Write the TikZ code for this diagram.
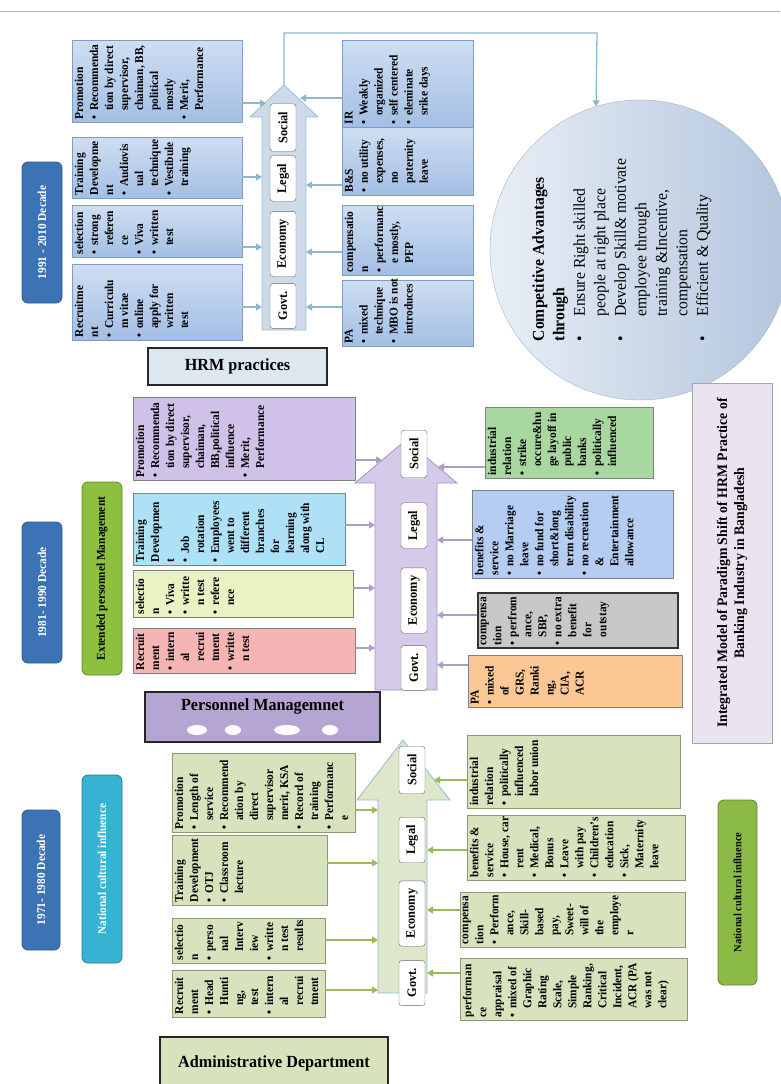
\documentclass[tikz,border=0pt]{standalone}
\usepackage{fontspec}
\setmainfont{Liberation Serif}[FakeStretch=0.95]
\usepackage{tikz}
\usetikzlibrary{arrows.meta}

\definecolor{blueA}{HTML}{CFDEF2}
\definecolor{blueB}{HTML}{A3BFE4}
\definecolor{blueD}{HTML}{7F9DC4}
\definecolor{decade}{HTML}{3B73B5}
\definecolor{decadeD}{HTML}{2A5A92}
\definecolor{shaftA}{HTML}{CCDBE7}
\definecolor{shaftAd}{HTML}{A2BDD2}
\definecolor{linkA}{HTML}{8CB9CD}
\definecolor{hrmfill}{HTML}{DCE7F0}
\definecolor{lilac}{HTML}{CFC1E8}
\definecolor{skyfill}{HTML}{AEE1F5}
\definecolor{limefill}{HTML}{E8F2C2}
\definecolor{rosefill}{HTML}{F6B5B5}
\definecolor{mintfill}{HTML}{A8D8A0}
\definecolor{cornfill}{HTML}{B5CDF2}
\definecolor{stonefill}{HTML}{C8C8C8}
\definecolor{peachfill}{HTML}{FBC794}
\definecolor{shaftB}{HTML}{D5CAE8}
\definecolor{shaftBd}{HTML}{A195C6}
\definecolor{linkB}{HTML}{A79FC4}
\definecolor{leaf}{HTML}{8DC03F}
\definecolor{pmfill}{HTML}{B5A5D2}
\definecolor{olivefill}{HTML}{D7E3BC}
\definecolor{oliveD}{HTML}{8C9A74}
\definecolor{shaftC}{HTML}{DDE8CB}
\definecolor{shaftCd}{HTML}{8FBCD6}
\definecolor{linkC}{HTML}{9BBB59}
\definecolor{cyanpill}{HTML}{36B2D3}
\definecolor{grass}{HTML}{8CBA46}
\definecolor{intfill}{HTML}{EAE4F1}
\definecolor{orbL}{HTML}{E8EEF6}
\definecolor{orbR}{HTML}{B3C5DD}
\definecolor{orbD}{HTML}{9FB3CC}

\newcommand{\pbul}{\makebox[0.7em][l]{\textbullet}}
\newcommand{\pind}{\hspace*{0.7em}}
\newcommand{\cbul}{\makebox[1.5em][l]{\textbullet}}
\newcommand{\cind}{\hspace*{1.5em}}

\begin{document}
\begin{tikzpicture}[x=1pt, y=-1pt,
  every node/.style={font=\bfseries\fontsize{12}{15}\selectfont},
  box/.style={draw, rotate=90, inner sep=0pt, line width=0.8pt},
  txt/.style={rotate=90, anchor=north west, align=left, inner sep=3pt},
  pill/.style={draw, rotate=90, rounded corners=6pt, inner sep=0pt, line width=0.8pt},
  tag/.style={draw=gray!80!black, fill=white, rounded corners=3pt, rotate=90, inner xsep=8pt, inner ysep=0pt, minimum height=26pt, font=\bfseries\fontsize{13}{15}\selectfont},
  head/.style={draw=black!85, line width=1.3pt, font=\bfseries\fontsize{17}{20}\selectfont},
  link/.style={-{Triangle[length=6pt, width=7pt]}, line width=1.3pt},
]
\useasboundingbox (0,0) rectangle (780,1084);
\draw[gray!60, line width=1pt] (0,11) -- (780,11);

% 1991 - 2010
\node[pill, fill=decade, draw=decadeD, minimum width=141pt, minimum height=40pt, text=white] (dec1) at (42,232.5) {1991 - 2010 Decade};
\draw[fill=shaftA, draw=shaftAd, line width=0.8pt] (262,330) -- (262,117) -- (250,117) -- (284,85) -- (318,117) -- (306,117) -- (306,330) -- cycle;
\coordinate (tip1) at (284,85);
\node[tag] (soc1) at (283,127.5) {Social};
\node[tag] (leg1) at (283,178.5) {Legal};
\node[tag] (eco1) at (283,244) {Economy};
\node[tag] (gov1) at (283,306) {Govt.};

\node[box, top color=blueA, bottom color=blueB, draw=blueD, minimum width=82pt, minimum height=170pt] (pro1) at (157,81) {};
\node[txt] (pro1t) at (pro1.north west) {Promotion\\ \pbul Recommenda\\ \pind tion by direct\\ \pind supervisor,\\ \pind chaiman, BB,\\ \pind political\\ \pind mostly\\ \pbul Merit,\\ \pind Performance};
\node[box, top color=blueA, bottom color=blueB, draw=blueD, minimum width=61pt, minimum height=170pt] (trn1) at (157,167.5) {};
\node[txt] (trn1t) at (trn1.north west) {Training\\ Developme\\ nt\\ \pbul Audiovis\\ \pind ual\\ \pind technique\\ \pbul Vestibule\\ \pind training};
\node[box, top color=blueA, bottom color=blueB, draw=blueD, minimum width=52pt, minimum height=170pt] (sel1) at (157,231) {};
\node[txt] (sel1t) at (sel1.north west) {selection\\ \pbul strong\\ \pind referen\\ \pind ce\\ \pbul Viva\\ \pbul written\\ \pind test};
\node[box, top color=blueA, bottom color=blueB, draw=blueD, minimum width=76pt, minimum height=170pt] (rec1) at (157,302) {};
\node[txt] (rec1t) at (rec1.north west) {Recruitme\\ nt\\ \pbul Curriculu\\ \pind m vitae\\ \pbul online\\ \pind apply for\\ \pind written\\ \pind test};

\node[box, top color=blueA, bottom color=blueB, draw=blueD, minimum width=87pt, minimum height=131pt] (ir1) at (407.5,83.5) {};
\node[txt] (ir1t) at (ir1.north west) {IR\\ \pbul Weakly\\ \pind organized\\ \pbul self centered\\ \pbul eleminate\\ \pind srike days};
\node[box, top color=blueA, bottom color=blueB, draw=blueD, minimum width=68pt, minimum height=131pt] (bs1) at (407.5,161) {};
\node[txt] (bs1t) at (bs1.north west) {B\&S\\ \pbul no utility\\ \pind expenses,\\ \pind no\\ \pind paternity\\ \pind leave};
\node[box, top color=blueA, bottom color=blueB, draw=blueD, minimum width=70pt, minimum height=131pt] (cmp1) at (407.5,240) {};
\node[txt] (cmp1t) at (cmp1.north west) {compensatio\\ n\\ \pbul performanc\\ \pind e mostly,\\ \pind PFP};
\node[box, top color=blueA, bottom color=blueB, draw=blueD, minimum width=66pt, minimum height=131pt] (pa1) at (407.5,313) {};
\node[txt] (pa1t) at (pa1.north west) {PA\\ \pbul mixed\\ \pind technique\\ \pbul MBO is not\\ \pind introduces};

\foreach \bx/\x/\y in {pro1/266/103, trn1/262/177, sel1/262/247, rec1/262/307} {
  \coordinate (\bx-in) at (\x,\y);
  \draw[link, draw=linkA] (\bx.south |- \bx-in) -- (\bx-in);
}
\foreach \bx/\x/\y in {ir1/300/98, bs1/306/185, cmp1/306/252, pa1/306/307} {
  \coordinate (\bx-in) at (\x,\y);
  \draw[link, draw=linkA] (\bx.north |- \bx-in) -- (\bx-in);
}

\node[circle, draw=orbD, left color=orbL, right color=orbR, minimum size=300pt, inner sep=0pt] (adv) at (640,250) {};
\node[rotate=90, align=left, font=\fontsize{16.5}{20.5}\selectfont] (advt) at (622,250) {\textbf{Competitive Advantages}\\ \textbf{through}\\ \cbul Ensure Right skilled\\ \cind people at right place\\ \cbul Develop Skill\& motivate\\ \cind employee through\\ \cind training \&Incentive,\\ \cind compensation\\ \cbul Efficient \& Quality};
\coordinate (lnk) at (597,33);
\draw[link, draw=linkA] (tip1) |- (lnk) -- (adv.107);

\node[head, fill=hrmfill, minimum width=179pt, minimum height=37pt] (hrm) at (237.5,366.5) {HRM practices};

% 1981 - 1990
\node[pill, fill=decade, draw=decadeD, minimum width=141pt, minimum height=40pt, text=white] (dec2) at (42,592.5) {1981- 1990 Decade};
\node[pill, fill=leaf, draw=leaf!70!black, minimum width=193pt, minimum height=40pt] (ext2) at (102,578.5) {Extended personnel Management};
\draw[fill=shaftB, draw=shaftBd, line width=0.8pt] (375,690) -- (375,483) -- (355,483) -- (406,440) -- (457,483) -- (437,483) -- (437,690) -- cycle;
\node[tag] (soc2) at (414,454) {Social};
\node[tag] (leg2) at (414,525.5) {Legal};
\node[tag] (eco2) at (414,600.5) {Economy};
\node[tag] (gov2) at (414,668) {Govt.};

\node[box, fill=lilac, draw=gray, minimum width=83pt, minimum height=222pt] (pro2) at (244,438.5) {};
\node[txt] (pro2t) at (pro2.north west) {Promotion\\ \pbul Recommenda\\ \pind tion by direct\\ \pind supervisor,\\ \pind chaiman,\\ \pind BB,political\\ \pind influence\\ \pbul Merit,\\ \pind Performance};
\node[box, fill=skyfill, draw=gray, minimum width=72pt, minimum height=212pt] (trn2) at (239,529) {};
\node[txt] (trn2t) at (trn2.north west) {Training\\ Developmen\\ t\\ \pbul Job\\ \pind rotation\\ \pbul Employees\\ \pind went to\\ \pind different\\ \pind branches\\ \pind for\\ \pind learning\\ \pind along with\\ \pind CL};
\node[box, fill=limefill, draw=gray, minimum width=47pt, minimum height=220pt] (sel2) at (243,593.5) {};
\node[txt] (sel2t) at (sel2.north west) {selectio\\ n\\ \pbul Viva\\ \pbul writte\\ \pind n test\\ \pbul refere\\ \pind nce};
\node[box, fill=rosefill, draw=gray, minimum width=45pt, minimum height=222pt] (rec2) at (244,650.5) {};
\node[txt] (rec2t) at (rec2.north west) {Recruit\\ ment\\ \pbul intern\\ \pind al\\ \pind recrui\\ \pind tment\\ \pbul writte\\ \pind n test};

\node[box, fill=mintfill, draw=gray, minimum width=71pt, minimum height=168pt] (ir2) at (569,442.5) {};
\node[txt] (ir2t) at (ir2.north west) {industrial\\ relation\\ \pbul strike\\ \pind occure\&hu\\ \pind ge layoff in\\ \pind public\\ \pind banks\\ \pbul politically\\ \pind influenced};
\node[box, fill=cornfill, draw=gray, minimum width=88pt, minimum height=201pt] (bs2) at (572.5,534) {};
\node[txt] (bs2t) at (bs2.north west) {benefits \&\\ service\\ \pbul no Marriage\\ \pind leave\\ \pbul no fund for\\ \pind short\&long\\ \pind term disability\\ \pbul no recreation\\ \pind \&\\ \pind Entertainment\\ \pind allowance};
\node[box, fill=stonefill, draw=black!80, line width=1.2pt, minimum width=55pt, minimum height=200pt] (cmp2) at (578,620.5) {};
\node[txt] (cmp2t) at (cmp2.north west) {compensa\\ tion\\ \pbul perfrom\\ \pind ance,\\ \pind SBP,\\ \pbul no extra\\ \pind benefit\\ \pind for\\ \pind outstay};
\node[box, fill=peachfill, draw=gray, minimum width=52pt, minimum height=214pt] (pa2) at (575,681) {};
\node[txt] (pa2t) at (pa2.north west) {PA\\ \pbul mixed\\ \pind of\\ \pind GRS,\\ \pind Ranki\\ \pind ng,\\ \pind CIA,\\ \pind ACR};

\foreach \bx/\x/\y in {pro2/382/460, trn2/375/525, sel2/375/588, rec2/375/648} {
  \coordinate (\bx-in) at (\x,\y);
  \draw[link, draw=linkB] (\bx.south |- \bx-in) -- (\bx-in);
}
\foreach \bx/\x/\y in {ir2/438/467, bs2/437/540, cmp2/437/615, pa2/437/665} {
  \coordinate (\bx-in) at (\x,\y);
  \draw[link, draw=linkB] (\bx.north |- \bx-in) -- (\bx-in);
}

\node[box, fill=intfill, draw=gray!70, minimum width=360pt, minimum height=80pt, align=center, font=\bfseries\fontsize{14.5}{17}\selectfont] (int) at (732,563) {Integrated Model of Paradigm Shift of HRM Practice of\\ Banking Industry in Bangladesh};

\node[head, fill=pmfill, minimum width=235pt, minimum height=50pt] (pm) at (262.5,717) {};
\node[font=\bfseries\fontsize{17}{20}\selectfont] (pmt) at (262.5,706) {Personnel Managemnet};
\foreach \x/\w in {197/10, 233/8, 287/13, 330/8}
  \fill[white] (\x,730) ellipse [x radius=\w pt, y radius=5pt];

% 1971 - 1980
\node[pill, fill=decade, draw=decadeD, minimum width=140pt, minimum height=38pt, text=white] (dec3) at (41,880) {1971- 1980 Decade};
\node[pill, fill=cyanpill, draw=cyanpill!70!black, minimum width=188pt, minimum height=40pt, text=white] (nat3) at (102,869) {National cultural influence};
\draw[fill=shaftC, draw=shaftCd, line width=0.8pt] (378,993) -- (378,800) -- (357,800) -- (403,740) -- (450,800) -- (427,800) -- (427,993) -- cycle;
\node[tag] (soc3) at (412,770) {Social};
\node[tag] (leg3) at (412,840) {Legal};
\node[tag] (eco3) at (412,913.5) {Economy};
\node[tag] (gov3) at (412,983) {Govt.};

\node[box, fill=olivefill, draw=oliveD, minimum width=79pt, minimum height=183pt] (pro3) at (263.5,792.5) {};
\node[txt] (pro3t) at (pro3.north west) {Promotion\\ \pbul Length of\\ \pind service\\ \pbul Recommend\\ \pind ation by\\ \pind direct\\ \pind supervisor\\ \pind merit, KSA\\ \pbul Record of\\ \pind training\\ \pbul Performanc\\ \pind e};
\node[box, fill=olivefill, draw=oliveD, minimum width=70pt, minimum height=155pt] (trn3) at (249.5,870) {};
\node[txt] (trn3t) at (trn3.north west) {Training\\ Development\\ \pbul OTJ\\ \pbul Classroom\\ \pind lecture};
\node[box, fill=olivefill, draw=oliveD, minimum width=45pt, minimum height=153pt] (sel3) at (248.5,940.5) {};
\node[txt] (sel3t) at (sel3.north west) {selectio\\ n\\ \pbul perso\\ \pind nal\\ \pind Interv\\ \pind iew\\ \pbul writte\\ \pind n test\\ \pind results};
\node[box, fill=olivefill, draw=oliveD, minimum width=47pt, minimum height=153pt] (rec3) at (248.5,993.5) {};
\node[txt] (rec3t) at (rec3.north west) {Recruit\\ ment\\ \pbul Head\\ \pind Hunti\\ \pind ng,\\ \pind test\\ \pbul intern\\ \pind al\\ \pind recrui\\ \pind tment};

\node[box, fill=olivefill, draw=oliveD, minimum width=73pt, minimum height=213pt] (ir3) at (573.5,771.5) {};
\node[txt] (ir3t) at (ir3.north west) {industrial\\ relation\\ \pbul politically\\ \pind influenced\\ \pind labor union};
\node[box, fill=olivefill, draw=oliveD, minimum width=65pt, minimum height=218pt] (bs3) at (576,847.5) {};
\node[txt] (bs3t) at (bs3.north west) {benefits \&\\ service\\ \pbul House, car\\ \pind rent\\ \pbul Medical,\\ \pind Bonus\\ \pbul Leave\\ \pind with pay\\ \pbul Children's\\ \pind education\\ \pbul Sick,\\ \pind Maternity\\ \pind leave};
\node[box, fill=olivefill, draw=oliveD, minimum width=55pt, minimum height=225pt] (cmp3) at (572.5,919.5) {};
\node[txt] (cmp3t) at (cmp3.north west) {compensa\\ tion\\ \pbul Perform\\ \pind ance,\\ \pind Skill-\\ \pind based\\ \pind pay,\\ \pind Sweet-\\ \pind will of\\ \pind the\\ \pind employe\\ \pind r};
\node[box, fill=olivefill, draw=oliveD, minimum width=62pt, minimum height=227pt] (pa3) at (573.5,989) {};
\node[txt] (pa3t) at (pa3.north west) {performan\\ ce\\ appraisal\\ \pbul mixed of\\ \pind Graphic\\ \pind Rating\\ \pind Scale,\\ \pind Simple\\ \pind Ranking,\\ \pind Critical\\ \pind Incident,\\ \pind ACR (PA\\ \pind was not\\ \pind clear)};

\foreach \bx/\x/\y in {pro3/378/810, trn3/378/863, sel3/378/940, rec3/378/990} {
  \coordinate (\bx-in) at (\x,\y);
  \draw[link, draw=linkC] (\bx.south |- \bx-in) -- (\bx-in);
}
\foreach \bx/\x/\y in {ir3/434/780, bs3/427/850, cmp3/427/910, pa3/427/973} {
  \coordinate (\bx-in) at (\x,\y);
  \draw[link, draw=linkC] (\bx.north |- \bx-in) -- (\bx-in);
}

\node[pill, fill=grass, draw=grass!70!black, minimum width=185pt, minimum height=39pt, font=\bfseries\fontsize{11}{13}\selectfont] (nat3r) at (737.5,892.5) {National cultural influence};
\node[head, fill=olivefill, minimum width=228pt, minimum height=53pt] (adm) at (274,1063.5) {Administrative Department};
\end{tikzpicture}
\end{document}
